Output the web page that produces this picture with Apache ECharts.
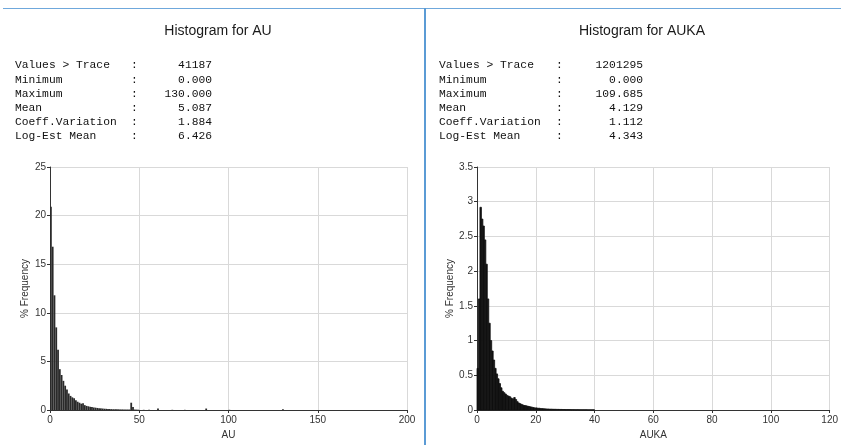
<!DOCTYPE html>
<html>
<head>
<meta charset="utf-8">
<script src="https://cdn.jsdelivr.net/npm/echarts@6/dist/echarts.min.js"></script>
<style>
  html, body { margin: 0; padding: 0; background: #fff; }
  #chart { width: 841px; height: 445px; }
</style>
</head>
<body>
<div id="chart"></div>
<script>
// stats blocks
const statNames = ['Values > Trace', 'Minimum', 'Maximum', 'Mean', 'Coeff.Variation', 'Log-Est Mean']
const auStats = ['41187', '0.000', '130.000', '5.087', '1.884', '6.426']
const aukaStats = ['1201295', '0.000', '109.685', '4.129', '1.112', '4.343']

// AU histogram, bin width 1, bins 0..49
const auBinWidth = 1
const auFreq = [
  20.9, 16.8, 11.8, 8.5, 6.2, 4.2, 3.6, 3.0, 2.5, 2.1,
  1.7, 1.45, 1.3, 1.2, 1.0, 0.85, 0.75, 0.65, 0.7, 0.5,
  0.42, 0.38, 0.33, 0.3, 0.26, 0.24, 0.21, 0.19, 0.17, 0.15,
  0.13, 0.12, 0.1, 0.1, 0.09, 0.08, 0.08, 0.07, 0.07, 0.06,
  0.06, 0.05, 0.05, 0.05, 0.05, 0.75, 0.3, 0.05, 0.04, 0.03
]
// isolated bins further out
const auTailBins = [52, 55, 60, 68, 75, 87, 100, 130]
const auTailFreq = [0.02, 0.02, 0.15, 0.02, 0.02, 0.15, 0.02, 0.08]

// AUKA histogram, bin width 0.5, bins 0..39.5
const aukaBinWidth = 0.5
const aukaFreq = [
  0.6, 1.6, 2.92, 2.75, 2.65, 2.45, 2.1, 1.6, 1.25, 1.0,
  0.85, 0.72, 0.6, 0.52, 0.45, 0.38, 0.32, 0.27, 0.25, 0.23,
  0.21, 0.2, 0.19, 0.17, 0.16, 0.18, 0.15, 0.12, 0.1, 0.09,
  0.08, 0.07, 0.065, 0.06, 0.055, 0.05, 0.045, 0.04, 0.035, 0.03,
  0.03, 0.025, 0.025, 0.02, 0.02, 0.018, 0.016, 0.015, 0.014, 0.012,
  0.012, 0.011, 0.01, 0.01, 0.009, 0.009, 0.008, 0.008, 0.007, 0.007,
  0.006, 0.006, 0.006, 0.005, 0.005, 0.005, 0.004, 0.004, 0.004, 0.004,
  0.003, 0.003, 0.003, 0.003, 0.003, 0.002, 0.002, 0.002, 0.002, 0.002
]

const auData = auFreq.map((v, i) => [i * auBinWidth, v])
  .concat(auTailBins.map((b, i) => [b, auTailFreq[i]]))
const aukaData = aukaFreq.map((v, i) => [i * aukaBinWidth, v])

function histItem(binWidth, color, edge) {
  return function (params, api) {
    const start = api.value(0)
    const top = api.coord([start, api.value(1)])
    const bottom = api.coord([start + binWidth, 0])
    return {
      type: 'rect',
      shape: {
        x: top[0],
        y: top[1],
        width: Math.max(bottom[0] - top[0], 1),
        height: bottom[1] - top[1]
      },
      style: { fill: color, stroke: edge, lineWidth: edge ? 0.8 : 0 }
    }
  }
}

const font = 'Liberation Sans'
const mono = 'Liberation Mono'

function xAxis(gridIndex, max, interval, name) {
  return {
    type: 'value', gridIndex, min: 0, max, interval, name,
    nameLocation: 'middle', nameGap: 20,
    nameTextStyle: { fontFamily: font, fontSize: 10, color: '#333' },
    axisLine: { onZero: false, lineStyle: { color: '#333' } },
    axisTick: { show: true, length: 3, lineStyle: { color: '#333' } },
    axisLabel: { fontFamily: font, fontSize: 10, color: '#333', margin: 5 },
    splitLine: { show: true, lineStyle: { color: '#d9d9d9' } }
  }
}

function yAxis(gridIndex, max, interval) {
  return {
    type: 'value', gridIndex, min: 0, max, interval,
    name: '% Frequency', nameLocation: 'middle', nameGap: 20,
    nameTextStyle: { fontFamily: font, fontSize: 10, color: '#333' },
    axisLine: { show: true, lineStyle: { color: '#333' } },
    axisTick: { show: true, length: 3, lineStyle: { color: '#333' } },
    axisLabel: { fontFamily: font, fontSize: 10, color: '#333', margin: 4 },
    splitLine: { show: true, lineStyle: { color: '#d9d9d9' } }
  }
}

function statTexts(x0, colonX, valueRight, values) {
  const out = []
  statNames.forEach((n, i) => {
    const y = 67 + i * 14.2
    const st = { fontFamily: mono, fontSize: 11.3, fill: '#111', verticalAlign: 'middle' }
    out.push({ type: 'text', left: x0, top: y - 7, style: Object.assign({ text: n }, st) })
    out.push({ type: 'text', left: colonX, top: y - 7, style: Object.assign({ text: ':' }, st) })
    out.push({ type: 'text', right: 841 - valueRight, top: y - 7, style: Object.assign({ text: values[i], align: 'right' }, st) })
  })
  return out
}

const chart = echarts.init(document.getElementById('chart'))
chart.setOption({
  animation: false,
  title: [
    { text: 'Histogram for AU', left: 213, top: 19, textAlign: 'center',
      textStyle: { fontFamily: font, fontSize: 14, fontWeight: 'normal', color: '#1a1a1a' } },
    { text: 'Histogram for AUKA', left: 637, top: 19, textAlign: 'center',
      textStyle: { fontFamily: font, fontSize: 14, fontWeight: 'normal', color: '#1a1a1a' } }
  ],
  grid: [
    { left: 50, top: 167, width: 357, height: 245 },
    { left: 477, top: 167, width: 355, height: 245 }
  ],
  xAxis: [xAxis(0, 200, 50, 'AU'), xAxis(1, 120, 20, 'AUKA')],
  yAxis: [yAxis(0, 25, 5), yAxis(1, 3.5, 0.5)],
  graphic: [
    { type: 'line', shape: { x1: 3, y1: 8.5, x2: 841, y2: 8.5 }, style: { stroke: '#6fa8dc', lineWidth: 1 } },
    { type: 'line', shape: { x1: 425, y1: 8, x2: 425, y2: 445 }, style: { stroke: '#5b9bd5', lineWidth: 2 } }
  ].concat(statTexts(15, 131, 212, auStats), statTexts(439, 556, 643, aukaStats)),
  series: [
    { type: 'custom', xAxisIndex: 0, yAxisIndex: 0, renderItem: histItem(auBinWidth, '#2a2a2a', null),
      encode: { x: 0, y: 1 }, data: auData },
    { type: 'custom', xAxisIndex: 1, yAxisIndex: 1, renderItem: histItem(aukaBinWidth, '#111', '#111'),
      encode: { x: 0, y: 1 }, data: aukaData }
  ]
})
</script>
</body>
</html>
